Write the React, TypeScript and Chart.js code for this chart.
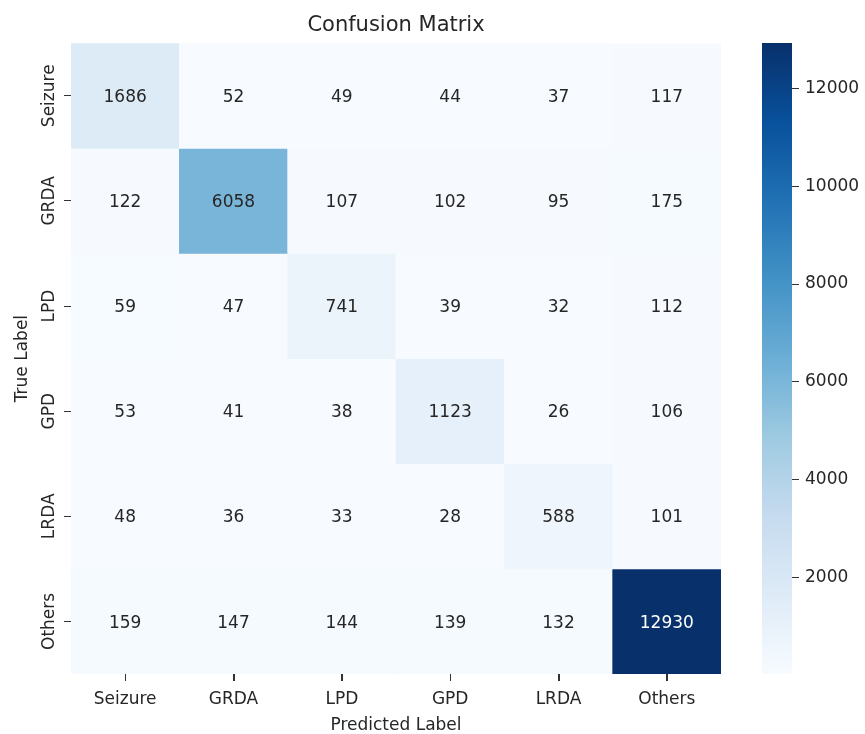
import React, { useEffect, useRef } from 'react';
import { Chart, registerables } from 'chart.js';

Chart.register(...registerables);

// ---- data ----
const predLabels = ['Seizure', 'GRDA', 'LPD', 'GPD', 'LRDA', 'Others'];
const trueLabels = ['Seizure', 'GRDA', 'LPD', 'GPD', 'LRDA', 'Others'];
const rowSeizure = [1686, 52, 49, 44, 37, 117];
const rowGRDA = [122, 6058, 107, 102, 95, 175];
const rowLPD = [59, 47, 741, 39, 32, 112];
const rowGPD = [53, 41, 38, 1123, 26, 106];
const rowLRDA = [48, 36, 33, 28, 588, 101];
const rowOthers = [159, 147, 144, 139, 132, 12930];
const matrix = [rowSeizure, rowGRDA, rowLPD, rowGPD, rowLRDA, rowOthers];
const colorbarTicks = [2000, 4000, 6000, 8000, 10000, 12000];
const titleText = 'Confusion Matrix';
const xTitle = 'Predicted Label';
const yTitle = 'True Label';

// ---- style ----
const FONT = "'DejaVu Sans', 'Liberation Sans', sans-serif";
const TEXT = '#262626';
const TICK = '#333333';
const BLUES = ['#f7fbff', '#deebf7', '#c6dbef', '#9ecae1', '#6baed6', '#4292c6', '#2171b5', '#08519c', '#08306b'];

const allVals = matrix.flat();
const vmin = Math.min(...allVals);
const vmax = Math.max(...allVals);
const nRows = trueLabels.length;

function hexToRgb(h: string): number[] {
  return [parseInt(h.slice(1, 3), 16), parseInt(h.slice(3, 5), 16), parseInt(h.slice(5, 7), 16)];
}
function bluesRgb(t: number): number[] {
  const c = Math.max(0, Math.min(1, t)) * (BLUES.length - 1);
  const i = Math.min(Math.floor(c), BLUES.length - 2);
  const f = c - i;
  const a = hexToRgb(BLUES[i]);
  const b = hexToRgb(BLUES[i + 1]);
  return [0, 1, 2].map((k) => a[k] + (b[k] - a[k]) * f);
}
function norm(v: number) {
  return (v - vmin) / (vmax - vmin);
}
function cellColor(v: number) {
  const [r, g, b] = bluesRgb(norm(v));
  return `rgb(${Math.round(r)},${Math.round(g)},${Math.round(b)})`;
}
function textColor(v: number) {
  const lin = bluesRgb(norm(v)).map((c) => {
    const s = c / 255;
    return s <= 0.03928 ? s / 12.92 : Math.pow((s + 0.055) / 1.055, 2.4);
  });
  const lum = 0.2126 * lin[0] + 0.7152 * lin[1] + 0.0722 * lin[2];
  return lum > 0.408 ? TEXT : '#ffffff';
}

const annotPlugin = {
  id: 'annot',
  afterDatasetsDraw(chart: any) {
    const { ctx, scales } = chart;
    const x = scales.x;
    const y = scales.y;
    const fs = 17;
    ctx.save();
    ctx.font = `${fs}px ${FONT}`;
    ctx.textAlign = 'center';
    ctx.textBaseline = 'alphabetic';
    matrix.forEach((row, i) => {
      row.forEach((v, j) => {
        const px = x.getPixelForValue(j);
        const py = y.getPixelForValue(nRows - 0.5 - i);
        ctx.fillStyle = textColor(v);
        ctx.fillText(String(v), px, py + 0.3645 * fs);
      });
    });
    ctx.fillStyle = TEXT;
    trueLabels.forEach((lab, i) => {
      const py = y.getPixelForValue(nRows - 0.5 - i);
      ctx.save();
      ctx.translate(y.right - 17, py);
      ctx.rotate(-Math.PI / 2);
      ctx.fillText(lab, 0, 0);
      ctx.restore();
    });
    // x tick marks at column centres
    ctx.strokeStyle = TICK;
    ctx.lineWidth = 1;
    predLabels.forEach((_, j) => {
      const px = Math.round(x.getPixelForValue(j)) + 0.5;
      ctx.beginPath();
      ctx.moveTo(px, x.top);
      ctx.lineTo(px, x.top + 7);
      ctx.stroke();
    });
    ctx.restore();
  },
};

export default function App() {
  const mainRef = useRef<HTMLCanvasElement>(null);
  const cbRef = useRef<HTMLCanvasElement>(null);

  useEffect(() => {
    const main = new Chart(mainRef.current as HTMLCanvasElement, {
      type: 'bar',
      data: {
        labels: predLabels,
        datasets: trueLabels.map((name, i) => ({
          label: name,
          data: matrix[i].map(() => [nRows - 1 - i, nRows - i]),
          backgroundColor: matrix[i].map((v) => cellColor(v)),
          borderWidth: 0,
          grouped: false,
          barPercentage: 1,
          categoryPercentage: 1,
        })) as any,
      },
      options: {
        responsive: false,
        animation: false,
        layout: { padding: { left: 0, right: 19, top: 0, bottom: 0 } },
        plugins: {
          legend: { display: false },
          tooltip: { enabled: false },
          title: {
            display: true,
            text: titleText,
            color: TEXT,
            fullSize: false,
            font: { family: FONT, size: 21, weight: 'normal', lineHeight: 1.2 },
            padding: { top: 13, bottom: 5 },
          } as any,
        },
        scales: {
          x: {
            type: 'category',
            grid: { offset: false, drawOnChartArea: false, drawTicks: true, tickLength: 7, color: TICK },
            border: { display: false },
            ticks: { font: { family: FONT, size: 17 }, color: TEXT, padding: 8, maxRotation: 0, minRotation: 0 },
            title: {
              display: true,
              text: xTitle,
              color: TEXT,
              font: { family: FONT, size: 17, lineHeight: 1 },
              padding: { top: 0, bottom: 0 },
            },
            afterFit: (s: any) => {
              s.height = 60;
            },
          },
          y: {
            type: 'linear',
            min: 0,
            max: nRows,
            afterBuildTicks: (s: any) => {
              s.ticks = trueLabels.map((_, i) => ({ value: nRows - 0.5 - i }));
            },
            grid: { drawOnChartArea: false, drawTicks: true, tickLength: 7, color: TICK },
            border: { display: false },
            ticks: { display: false },
            title: {
              display: true,
              text: yTitle,
              color: TEXT,
              font: { family: FONT, size: 17, lineHeight: 1 },
              padding: { top: 14, bottom: 0 },
            },
            afterFit: (s: any) => {
              s.width = 71;
            },
          },
        },
      } as any,
      plugins: [annotPlugin],
    });

    const cb = new Chart(cbRef.current as HTMLCanvasElement, {
      type: 'bar',
      data: {
        labels: [''],
        datasets: [
          {
            data: [[vmin, vmax]] as any,
            backgroundColor: (c: any) => {
              const a = c.chart.chartArea;
              if (!a) return BLUES[0];
              const g = c.chart.ctx.createLinearGradient(0, a.bottom, 0, a.top);
              BLUES.forEach((col, k) => g.addColorStop(k / (BLUES.length - 1), col));
              return g;
            },
            borderWidth: 0,
            barPercentage: 1,
            categoryPercentage: 1,
          },
        ],
      },
      options: {
        responsive: false,
        animation: false,
        layout: { padding: { left: 22, top: 43, bottom: 60, right: 0 } },
        plugins: { legend: { display: false }, tooltip: { enabled: false } },
        scales: {
          x: { display: false },
          y: {
            position: 'right',
            min: vmin,
            max: vmax,
            afterBuildTicks: (s: any) => {
              s.ticks = colorbarTicks.map((v) => ({ value: v }));
            },
            afterFit: (s: any) => {
              s.width = 73;
            },
            grid: { drawOnChartArea: false, drawTicks: true, tickLength: 7, color: TICK },
            border: { display: false },
            ticks: {
              font: { family: FONT, size: 17 },
              color: TEXT,
              padding: 6,
              callback: (v: any) => String(v),
            },
          },
        },
      } as any,
    });

    return () => {
      main.destroy();
      cb.destroy();
    };
  }, []);

  return (
    <div style={{ position: 'fixed', left: 0, top: 0, width: 865, height: 734, background: '#fff' }}>
      <canvas ref={mainRef} width={740} height={734} style={{ position: 'absolute', left: 0, top: 0, display: 'block' }} />
      <canvas ref={cbRef} width={125} height={734} style={{ position: 'absolute', left: 740, top: 0, display: 'block' }} />
    </div>
  );
}
